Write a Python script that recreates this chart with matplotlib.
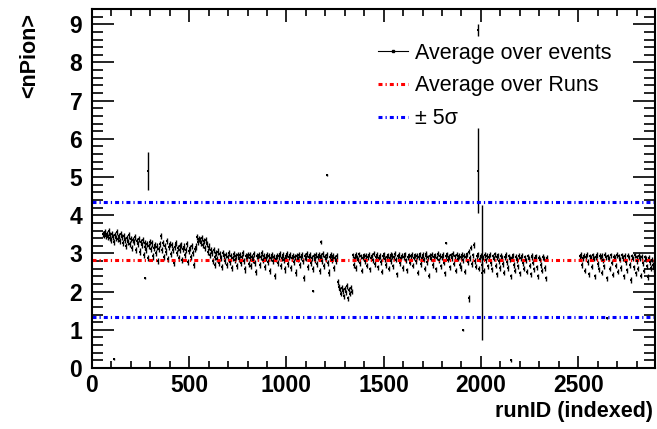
import numpy as np
import matplotlib
matplotlib.use("Agg")
import matplotlib.pyplot as plt
from matplotlib.ticker import MultipleLocator
from matplotlib.lines import Line2D

# ---------------- data ----------------
# segment A: runs 55..1260, one value every 5 runs
seg_a_start, seg_a_step = 55, 5
seg_a = [
    3.52, 3.48, 3.55, 3.45, 3.50, 3.42, 3.58, 3.40, 3.47, 3.35, 3.52, 3.44, 3.30, 3.49, 3.41, 3.55, 3.38, 3.46, 3.33, 3.50,
    3.42, 3.28, 3.45, 3.36, 3.20, 3.40, 3.31, 3.47, 3.25, 3.38, 3.15, 3.35, 3.29, 3.42, 3.10, 3.33, 3.24, 3.37, 3.05, 3.30,
    3.22, 3.34, 2.95, 3.18, 3.28, 3.08, 3.25, 2.88, 3.20, 3.30, 3.12, 3.26, 2.92, 3.15, 3.22, 3.00, 3.18, 2.80, 3.12, 3.24,
    3.45, 3.10, 3.28, 2.90, 3.20, 3.05, 3.32, 2.85, 3.16, 3.25, 2.98, 3.22, 3.10, 2.75, 3.18, 3.28, 3.02, 3.14, 2.88, 3.20,
    3.08, 3.22, 2.82, 3.12, 3.18, 2.95, 3.10, 3.25, 2.78, 3.06, 3.15, 2.90, 3.20, 3.02, 2.70, 3.12, 3.18, 3.42, 3.30, 3.38,
    3.35, 3.28, 3.40, 3.22, 3.32, 3.15, 3.36, 3.25, 3.05, 3.18, 2.95, 3.10, 3.02, 2.80, 3.08, 2.90, 2.70, 3.00, 2.85, 3.05,
    2.75, 2.98, 2.88, 2.65, 3.02, 2.92, 2.80, 2.96, 2.70, 2.90, 3.00, 2.78, 2.94, 2.62, 2.88, 2.98, 2.82, 2.92, 2.68, 2.95,
    2.86, 2.97, 2.74, 2.90, 3.02, 2.80, 2.58, 2.92, 2.87, 2.96, 2.72, 2.89, 2.95, 2.66, 2.91, 2.84, 2.98, 2.76, 2.52, 2.93,
    2.88, 2.95, 2.70, 2.90, 3.00, 2.82, 2.93, 2.64, 2.87, 2.97, 2.78, 2.92, 2.55, 2.89, 2.96, 2.80, 2.91, 2.40, 2.86, 2.94,
    2.75, 2.92, 2.98, 2.68, 2.89, 2.95, 2.82, 2.58, 2.93, 2.87, 2.99, 2.72, 2.90, 2.96, 2.62, 2.88, 2.94, 2.78, 2.91, 2.50,
    2.93, 2.86, 2.97, 2.70, 2.90, 2.96, 2.80, 2.35, 2.92, 2.88, 2.99, 2.65, 2.91, 2.95, 2.76, 2.89, 2.60, 2.94, 2.84, 2.97,
    2.72, 2.90, 2.96, 2.55, 2.88, 2.93, 2.81, 2.98, 2.66, 2.91, 2.86, 2.95, 2.74, 2.50, 2.90, 2.97, 2.84, 2.92, 2.62, 2.88,
    2.80, 2.93,
]
# segment B: low block, runs 1265..1335
seg_b_start, seg_b_step = 1265, 5
seg_b = [2.25, 2.12, 2.05, 1.95, 2.10, 2.02, 1.88, 2.08, 1.98, 2.15, 1.82, 2.05, 1.95, 2.10, 2.00]
# segment C: runs 1340..2340
seg_c_start, seg_c_step = 1340, 5
seg_c = [
    2.95, 2.70, 2.88, 2.96, 2.62, 2.90, 2.84, 2.98, 2.75, 2.92, 2.55, 2.89, 2.95, 2.80, 2.93, 2.68, 2.91, 2.97, 2.58, 2.88,
    2.94, 2.82, 2.99, 2.72, 2.90, 2.96, 2.64, 2.89, 2.93, 2.78, 2.52, 2.92, 2.98, 2.85, 2.70, 2.91, 2.95, 2.60, 2.88, 2.97,
    2.80, 2.93, 2.66, 2.90, 2.99, 2.84, 2.45, 2.92, 2.96, 2.74, 2.89, 2.94, 2.62, 2.91, 2.98, 2.82, 2.56, 2.90, 2.95, 2.76,
    2.92, 2.97, 2.68, 2.89, 2.95, 2.80, 2.93, 2.50, 2.91, 2.98, 2.72, 2.88, 2.96, 2.84, 2.60, 2.93, 2.99, 2.78, 2.90, 2.42,
    2.94, 2.86, 2.97, 2.70, 2.91, 2.95, 2.58, 2.89, 2.99, 2.82, 2.93, 2.66, 2.90, 2.96, 2.76, 2.48, 2.92, 2.98, 2.84, 2.91,
    2.64, 2.95, 2.88, 2.99, 2.73, 2.92, 2.55, 2.97, 2.86, 2.93, 2.70, 2.90, 2.62, 2.96, 2.82, 2.94, 2.52, 2.91, 2.98, 2.78,
    3.05, 2.88, 3.15, 2.72, 2.95, 3.22, 2.80, 2.65, 2.92, 2.98, 2.60, 2.85, 2.94, 2.70, 2.90, 2.55, 2.96, 2.82, 2.93, 2.66,
    2.90, 2.97, 2.74, 2.58, 2.92, 2.86, 2.98, 2.68, 2.45, 2.91, 2.95, 2.80, 2.62, 2.93, 2.88, 2.72, 2.50, 2.90, 2.96, 2.78,
    2.62, 2.92, 2.85, 2.40, 2.89, 2.95, 2.70, 2.55, 2.91, 2.83, 2.66, 2.93, 2.48, 2.87, 2.94, 2.74, 2.60, 2.90, 2.82, 2.52,
    2.92, 2.86, 2.68, 2.45, 2.90, 2.94, 2.76, 2.58, 2.88, 2.92, 2.64, 2.40, 2.89, 2.84, 2.70, 2.55, 2.91, 2.86, 2.62, 2.35,
    2.88,
]
# segment D: runs 2510..2890
seg_d_start, seg_d_step = 2510, 5
seg_d = [
    2.92, 2.96, 2.70, 2.88, 2.94, 2.55, 2.90, 2.97, 2.78, 2.45, 2.92, 2.88, 2.65, 2.95, 2.86, 2.40, 2.91, 2.96, 2.72, 2.58,
    2.93, 2.88, 2.50, 2.94, 2.82, 2.66, 2.97, 2.90, 2.35, 2.92, 2.86, 2.60, 2.95, 2.76, 2.44, 2.91, 2.89, 2.68, 2.96, 2.52,
    2.92, 2.84, 2.62, 2.95, 2.88, 2.40, 2.93, 2.78, 2.56, 2.94, 2.90, 2.70, 2.30, 2.92, 2.86, 2.64, 2.95, 2.48, 2.90, 2.80,
    2.60, 2.93, 2.88, 2.42, 2.91, 2.74, 2.55, 2.90, 2.85, 2.66, 2.38, 2.88, 2.78, 2.62, 2.84, 2.70, 2.58,
]
seg_err = [0.08, 0.07, 0.07, 0.07]   # typical per-run error in each segment

# isolated runs
out_x = [113, 271, 287, 1134, 1180, 1207, 1818, 1908, 1939, 1984, 1986, 2003, 2157, 2646]
out_y = [0.24, 2.35, 5.15, 2.02, 3.30, 5.05, 3.27, 1.00, 1.82, 8.85, 5.17, 2.50, 0.20, 1.30]
out_e = [0.03, 0.03, 0.50, 0.03, 0.06, 0.02, 0.03, 0.02, 0.08, 0.15, 1.11, 1.77, 0.03, 0.03]

avg_runs = 2.84
five_sigma = 1.50

x_max = 2895
y_max = 9.4
legend_labels = ["Average over events", "Average over Runs", "\u00b1 5\u03c3"]

# ---------------- figure ----------------
plt.rcParams['font.family'] = ['Liberation Sans', 'DejaVu Sans']
fig = plt.figure(figsize=(6.57, 4.29), dpi=100)
ax = fig.add_axes([92 / 657, 61 / 429, 563 / 657, 359 / 429])

segs = [(seg_a_start, seg_a_step, seg_a), (seg_b_start, seg_b_step, seg_b),
        (seg_c_start, seg_c_step, seg_c), (seg_d_start, seg_d_step, seg_d)]
for (s0, st, vals), e in zip(segs, seg_err):
    xs = s0 + st * np.arange(len(vals))
    ax.errorbar(xs, vals, yerr=e, fmt='s', color='black', ms=1.5,
                elinewidth=1.0, capsize=0, mew=0)
ax.errorbar(out_x, out_y, yerr=out_e, fmt='s', color='black', ms=1.5,
            elinewidth=1.0, capsize=0, mew=0)

dash = (0, (1.3, 1.0, 0.4, 1.0))
ax.axhline(avg_runs, color='#ff0000', lw=2.2, ls=dash, dash_capstyle='butt')
ax.axhline(avg_runs + five_sigma, color='#0000ff', lw=2.2, ls=dash, dash_capstyle='butt')
ax.axhline(avg_runs - five_sigma, color='#0000ff', lw=2.2, ls=dash, dash_capstyle='butt')

ax.set_xlim(0, x_max)
ax.set_ylim(0, y_max)
ax.xaxis.set_major_locator(MultipleLocator(500))
ax.xaxis.set_minor_locator(MultipleLocator(100))
ax.yaxis.set_major_locator(MultipleLocator(1))
ax.yaxis.set_minor_locator(MultipleLocator(0.2))
ax.tick_params(which='both', direction='in', top=True, right=True, width=1.2)
ax.tick_params(axis='x', which='major', length=9, pad=4)
ax.tick_params(axis='x', which='minor', length=5)
ax.tick_params(axis='y', which='major', length=16, pad=7)
ax.tick_params(axis='y', which='minor', length=8)
ax.tick_params(labelsize=16.5)
for lab in ax.get_xticklabels() + ax.get_yticklabels():
    lab.set_fontweight('bold')
for sp in ax.spines.values():
    sp.set_linewidth(1.5)

fig.text(653 / 657, 1 - 411 / 429, "runID (indexed)", ha='right', va='center',
         fontsize=15.5, fontweight='bold')
fig.text(30 / 657, 1 - 13 / 429, "<nPion>", ha='center', va='top', rotation=90,
         fontsize=15.5, fontweight='bold')

handles = [
    Line2D([0], [0], color='black', lw=0.8, marker='s', ms=1.5),
    Line2D([0], [0], color='#ff0000', lw=2.2, ls=dash),
    Line2D([0], [0], color='#0000ff', lw=2.2, ls=dash),
]
leg = ax.legend(handles, legend_labels, loc='upper left',
                bbox_to_anchor=(277 / 563, 1 - 25 / 359),
                frameon=False, fontsize=15.5, handlelength=1.4, handletextpad=0.33,
                labelspacing=0.55, borderaxespad=0)

fig.savefig("out.png", dpi=100)
